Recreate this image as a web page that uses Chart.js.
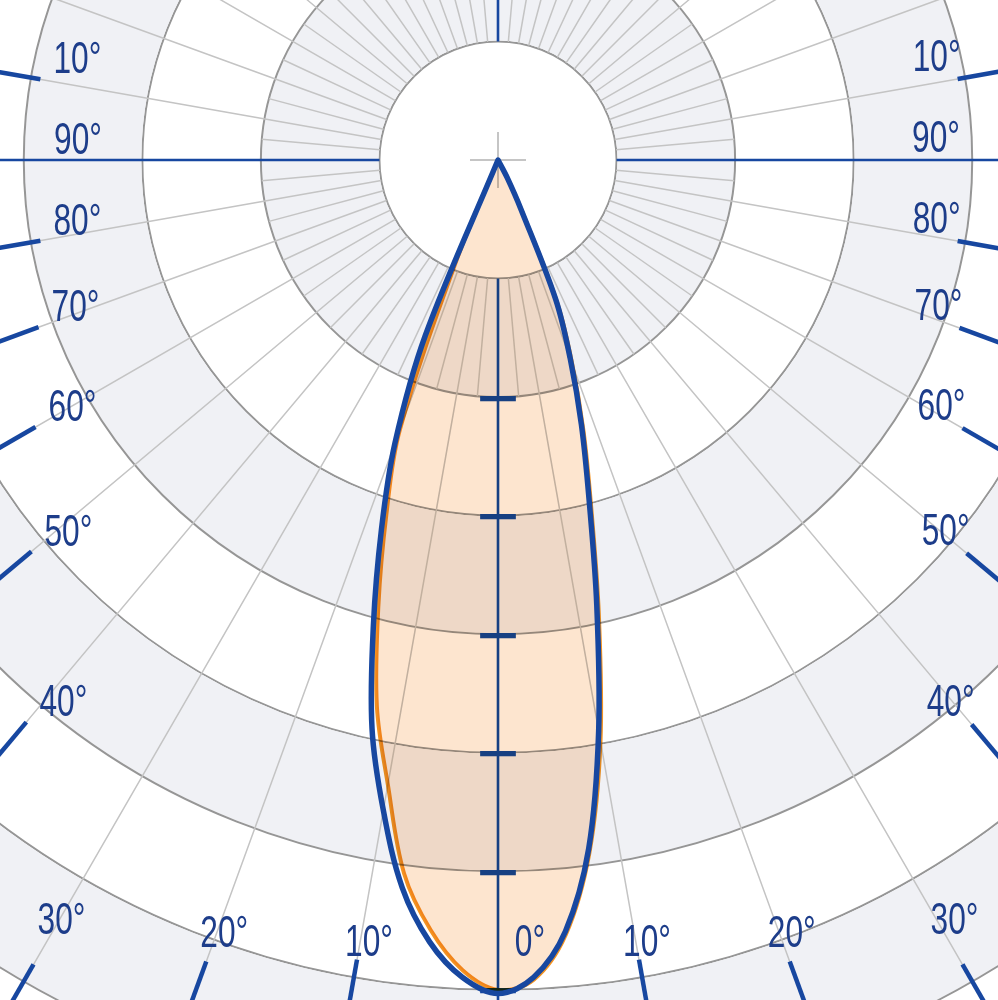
<!DOCTYPE html>
<html>
<head>
<meta charset="utf-8">
<title>Polar intensity diagram</title>
<script src="https://cdn.jsdelivr.net/npm/chart.js@4.4.1/dist/chart.umd.min.js"></script>
<style>
  html, body { margin: 0; padding: 0; background: #fff; }
  body { width: 998px; height: 1000px; overflow: hidden; position: relative; }
  #polar { position: absolute; left: -589px; top: -927px; }
</style>
</head>
<body>
<canvas id="polar" width="2174" height="2174"></canvas>
<script>
// C-plane angles in degrees, 0 = straight down, counting round to the left
const angles = [
  0, 2.5, 5, 7.5, 10, 12.5, 15, 17.5, 20, 22.5, 25, 27.5,
  30, 32.5, 35, 37.5, 40, 42.5, 45, 47.5, 50, 52.5, 55, 57.5,
  60, 62.5, 65, 67.5, 70, 72.5, 75, 77.5, 80, 82.5, 85, 87.5,
  90, 92.5, 95, 97.5, 100, 102.5, 105, 107.5, 110, 112.5, 115, 117.5,
  120, 122.5, 125, 127.5, 130, 132.5, 135, 137.5, 140, 142.5, 145, 147.5,
  150, 152.5, 155, 157.5, 160, 162.5, 165, 167.5, 170, 172.5, 175, 177.5,
  180, 182.5, 185, 187.5, 190, 192.5, 195, 197.5, 200, 202.5, 205, 207.5,
  210, 212.5, 215, 217.5, 220, 222.5, 225, 227.5, 230, 232.5, 235, 237.5,
  240, 242.5, 245, 247.5, 250, 252.5, 255, 257.5, 260, 262.5, 265, 267.5,
  270, 272.5, 275, 277.5, 280, 282.5, 285, 287.5, 290, 292.5, 295, 297.5,
  300, 302.5, 305, 307.5, 310, 312.5, 315, 317.5, 320, 322.5, 325, 327.5,
  330, 332.5, 335, 337.5, 340, 342.5, 345, 347.5, 350, 352.5, 355, 357.5
];

// intensity, C90-C270 plane (blue curve)
const c90c270 = [
  703, 690, 662, 619, 557, 491, 406, 327, 254, 160, 0, 0,
  0, 0, 0, 0, 0, 0, 0, 0, 0, 0, 0, 0,
  0, 0, 0, 0, 0, 0, 0, 0, 0, 0, 0, 0,
  0, 0, 0, 0, 0, 0, 0, 0, 0, 0, 0, 0,
  0, 0, 0, 0, 0, 0, 0, 0, 0, 0, 0, 0,
  0, 0, 0, 0, 0, 0, 0, 0, 0, 0, 0, 0,
  0, 0, 0, 0, 0, 0, 0, 0, 0, 0, 0, 0,
  0, 0, 0, 0, 0, 0, 0, 0, 0, 0, 0, 0,
  0, 0, 0, 0, 0, 0, 0, 0, 0, 0, 0, 0,
  0, 0, 0, 0, 0, 0, 0, 0, 0, 0, 0, 0,
  0, 0, 0, 0, 0, 0, 0, 0, 0, 0, 0, 0,
  0, 17, 46, 127, 178, 234, 297, 385, 489, 586, 653, 690
];

// intensity, C0-C180 plane (orange curve)
const c0c180 = [
  700, 684, 652, 607, 535, 472, 390, 313, 242, 90, 0, 0,
  0, 0, 0, 0, 0, 0, 0, 0, 0, 0, 0, 0,
  0, 0, 0, 0, 0, 0, 0, 0, 0, 0, 0, 0,
  0, 0, 0, 0, 0, 0, 0, 0, 0, 0, 0, 0,
  0, 0, 0, 0, 0, 0, 0, 0, 0, 0, 0, 0,
  0, 0, 0, 0, 0, 0, 0, 0, 0, 0, 0, 0,
  0, 0, 0, 0, 0, 0, 0, 0, 0, 0, 0, 0,
  0, 0, 0, 0, 0, 0, 0, 0, 0, 0, 0, 0,
  0, 0, 0, 0, 0, 0, 0, 0, 0, 0, 0, 0,
  0, 0, 0, 0, 0, 0, 0, 0, 0, 0, 0, 0,
  0, 0, 0, 0, 0, 0, 0, 0, 0, 0, 0, 0,
  0, 19, 50, 131, 183, 240, 304, 393, 498, 590, 656, 692
];

// rings and the marks on the 0 deg axis
const ringMax = 900;
const shadedBands = [150, 350, 550, 750];   // centre of each grey band
const axisTicks = [200, 300, 400, 500, 600, 700];

// angle labels round the border (the 100 deg line is printed as "10°")
const edgeAngles = [0, 10, 20, 30, 40, 50, 60, 70, 80, 90, 100];
const edgeText = ['0°', '10°', '20°', '30°', '40°', '50°', '60°', '70°', '80°', '90°', '10°'];

const blue = '#1747a0';
const navy = '#1d3d8a';
const orange = '#f39321';
const canvasLeft = -589, canvasTop = -927;   // same as the css offsets
const viewW = 998, viewH = 1000;

const isAxis = i => angles[i] % 90 === 0;

// the beam fill is laid over the grid like ink (multiply), so the axis stays blue
const inkFill = {
  id: 'inkFill',
  beforeDatasetsDraw(chart) {
    chart.ctx.globalCompositeOperation = 'multiply';
  },
  afterDatasetDraw(chart, args) {
    if (args.index === 1) chart.ctx.globalCompositeOperation = 'source-over';
  },
  afterDatasetsDraw(chart) {
    chart.ctx.globalCompositeOperation = 'source-over';
  }
};

// blue stubs at the picture border and the angle texts next to them
const edgeMarks = {
  id: 'edgeMarks',
  afterDatasetsDraw(chart) {
    const s = chart.scales.r;
    const ctx = chart.ctx;
    const view = { l: -canvasLeft, t: -canvasTop, r: -canvasLeft + viewW, b: -canvasTop + viewH };
    const cx = s.xCenter, cy = s.yCenter;

    edgeAngles.forEach((a, k) => {
      const idxs = a === 0 ? [0] : [angles.indexOf(a), angles.indexOf(360 - a)];
      idxs.forEach(idx => {
        const p = s.getPointPosition(idx, 1000);
        const dx = (p.x - cx) / 1000, dy = (p.y - cy) / 1000;
        const tx = dx < -1e-9 ? (view.l - cx) / dx : dx > 1e-9 ? (view.r - cx) / dx : Infinity;
        const ty = dy > 1e-9 ? (view.b - cy) / dy : dy < -1e-9 ? (view.t - cy) / dy : Infinity;
        const L = Math.min(tx, ty);
        const edge = tx < ty ? (dx < 0 ? 'left' : 'right') : 'bottom';
        const px = cx + dx * (L - 41), py = cy + dy * (L - 41);

        if (a % 90 !== 0) {
          ctx.save();
          ctx.strokeStyle = blue;
          ctx.lineWidth = 4.5;
          ctx.beginPath();
          ctx.moveTo(px, py);
          ctx.lineTo(cx + dx * (L + 3), cy + dy * (L + 3));
          ctx.stroke();
          ctx.restore();
        }

        let ox, oy;
        if (edge === 'left') { ox = 37; oy = -22; }
        else if (edge === 'right') { ox = -21; oy = -24; }
        else if (a === 0) { ox = 32; oy = -19; }
        else {
          const side = dx < 0 ? 1 : -1;
          ox = 10 + side * 0.02 * a * a;
          oy = -16 - 0.1 * a - 0.03 * a * a;
        }

        ctx.save();
        ctx.translate(px + ox, py + oy + 16);
        ctx.scale(0.72, 1);
        ctx.font = '44px "Liberation Sans", "DejaVu Sans", sans-serif';
        ctx.fillStyle = navy;
        ctx.textAlign = 'center';
        ctx.textBaseline = 'alphabetic';
        ctx.fillText(edgeText[k], 0, 0);
        ctx.restore();
      });
    });
  }
};

new Chart(document.getElementById('polar'), {
  type: 'radar',
  data: {
    labels: angles.map(a => a + '°'),
    datasets: [
      {
        label: 'C90-C270',
        data: c90c270,
        borderColor: blue,
        borderWidth: 5.5,
        borderJoinStyle: 'round',
        backgroundColor: 'transparent',
        fill: false,
        tension: 0.35,
        pointRadius: 0,
        order: 0
      },
      {
        label: 'C0-C180',
        data: c0c180,
        borderColor: orange,
        borderWidth: 4,
        borderJoinStyle: 'round',
        backgroundColor: '#fde5cf',
        fill: 'start',
        tension: 0.35,
        pointRadius: 0,
        order: 1
      },
      {
        label: 'centre',
        data: [0],
        showLine: false,
        fill: false,
        backgroundColor: 'transparent',
        pointStyle: 'cross',
        pointRadius: 28,
        pointBorderColor: '#b2b2b2',
        pointBackgroundColor: 'transparent',
        pointBorderWidth: 1.5,
        order: 2
      }
    ]
  },
  options: {
    responsive: false,
    animation: false,
    devicePixelRatio: 1,
    layout: { padding: 0 },
    plugins: {
      legend: { display: false },
      tooltip: { enabled: false },
      colors: { enabled: false }
    },
    scales: {
      r: {
        min: 0,
        max: ringMax,
        startAngle: 180,
        grid: {
          circular: true,
          color: c => shadedBands.includes(c.tick.value) ? '#f0f1f5' : '#969696',
          lineWidth: c => {
            if (shadedBands.includes(c.tick.value)) return c.scale.getDistanceFromCenterForValue(100) - 2;
            return c.tick.value % 100 === 0 ? 2 : 0;
          }
        },
        angleLines: {
          color: c => isAxis(c.index) ? blue : '#c4c4c4',
          lineWidth: c => angles[c.index] % 5 !== 0 ? 0 : isAxis(c.index) ? 2.6 : 1.5,
          borderDash: c => {
            const r1 = c.scale.getDistanceFromCenterForValue(100);
            const r2 = c.scale.getDistanceFromCenterForValue(200);
            return angles[c.index] % 10 === 0 ? [0, r1, 4000] : [0, r1, r2 - r1, 4000];
          }
        },
        pointLabels: { display: false },
        ticks: {
          stepSize: 50,
          showLabelBackdrop: false,
          backdropPadding: 0,
          color: blue,
          font: { family: 'DejaVu Sans', size: 40, weight: 'bold' },
          callback: v => axisTicks.includes(v) ? '\u2014' : ''
        }
      }
    }
  },
  plugins: [inkFill, edgeMarks]
});
</script>
</body>
</html>
